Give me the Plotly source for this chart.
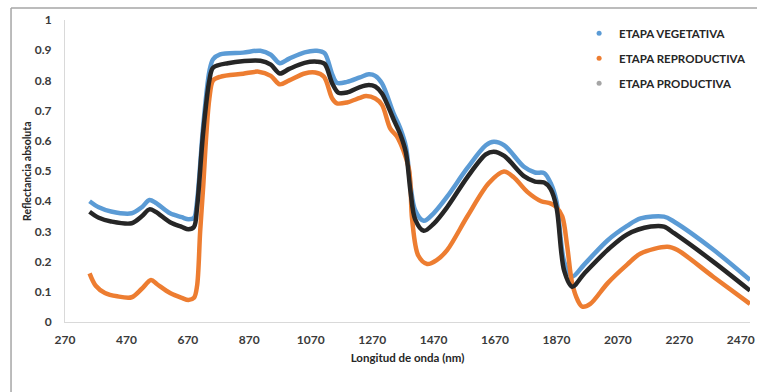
import plotly.graph_objects as go

# ---------------- data ----------------
veg_nm = [350, 380, 420, 487, 520, 545, 565, 612, 650, 672, 690, 700, 720, 740, 752, 775, 850, 906, 940, 969,
          1000, 1050, 1090, 1115, 1140, 1155, 1188, 1230, 1259, 1280, 1302, 1340, 1362, 1380, 1395, 1410, 1438,
          1470, 1514, 1580, 1640, 1666, 1700, 1764, 1800, 1830, 1851, 1870, 1895, 1921, 1960, 2036, 2100, 2144,
          2220, 2253, 2380, 2500]
veg_val = [0.400, 0.380, 0.366, 0.360, 0.380, 0.404, 0.395, 0.360, 0.347, 0.340, 0.345, 0.400, 0.650, 0.830,
           0.870, 0.886, 0.892, 0.898, 0.885, 0.857, 0.872, 0.893, 0.898, 0.890, 0.820, 0.792, 0.795, 0.810,
           0.820, 0.815, 0.790, 0.690, 0.640, 0.580, 0.450, 0.370, 0.335, 0.360, 0.415, 0.510, 0.585, 0.597,
           0.585, 0.514, 0.495, 0.493, 0.460, 0.400, 0.200, 0.150, 0.190, 0.270, 0.318, 0.343, 0.349, 0.332,
           0.240, 0.139]

rep_nm = [350, 370, 400, 440, 487, 520, 550, 570, 612, 650, 672, 690, 700, 710, 720, 730, 740, 752, 775, 850,
          900, 940, 969, 1000, 1050, 1085, 1113, 1140, 1155, 1188, 1230, 1250, 1280, 1302, 1329, 1351, 1389,
          1400, 1420, 1449, 1480, 1514, 1580, 1650, 1699, 1730, 1775, 1820, 1850, 1870, 1889, 1905, 1921, 1940,
          1954, 1980, 2036, 2100, 2144, 2231, 2264, 2380, 2500]
rep_val = [0.161, 0.120, 0.096, 0.085, 0.082, 0.110, 0.139, 0.125, 0.096, 0.080, 0.073, 0.080, 0.120, 0.300,
           0.450, 0.620, 0.740, 0.800, 0.812, 0.822, 0.829, 0.815, 0.787, 0.800, 0.823, 0.826, 0.812, 0.740,
           0.724, 0.727, 0.742, 0.748, 0.740, 0.719, 0.640, 0.614, 0.510, 0.340, 0.220, 0.192, 0.205, 0.238,
           0.350, 0.460, 0.498, 0.480, 0.431, 0.400, 0.393, 0.380, 0.349, 0.250, 0.128, 0.070, 0.051, 0.060,
           0.128, 0.190, 0.227, 0.249, 0.238, 0.150, 0.060]

pro_nm = [350, 380, 420, 487, 520, 545, 565, 612, 650, 672, 690, 700, 720, 740, 752, 800, 906, 940, 969, 1000,
          1050, 1090, 1115, 1140, 1160, 1188, 1230, 1259, 1280, 1302, 1340, 1362, 1380, 1395, 1410, 1438, 1470,
          1514, 1580, 1640, 1666, 1700, 1764, 1800, 1830, 1851, 1870, 1895, 1921, 1960, 2036, 2100, 2177, 2220,
          2253, 2380, 2500]
pro_val = [0.365, 0.345, 0.333, 0.327, 0.350, 0.373, 0.365, 0.330, 0.315, 0.307, 0.315, 0.380, 0.630, 0.800,
           0.842, 0.857, 0.865, 0.852, 0.823, 0.838, 0.858, 0.862, 0.855, 0.790, 0.759, 0.760, 0.778, 0.785,
           0.780, 0.757, 0.670, 0.620, 0.560, 0.430, 0.340, 0.302, 0.325, 0.380, 0.480, 0.555, 0.564, 0.550,
           0.483, 0.465, 0.462, 0.440, 0.380, 0.170, 0.117, 0.160, 0.238, 0.290, 0.316, 0.316, 0.294, 0.200,
           0.104]

series_names = ["ETAPA VEGETATIVA", "ETAPA REPRODUCTIVA", "ETAPA PRODUCTIVA"]
line_colors = ["#5B9BD5", "#ED7D31", "#262626"]
legend_colors = ["#5B9BD5", "#ED7D31", "#A5A5A5"]

x_ticks = [270, 470, 670, 870, 1070, 1270, 1470, 1670, 1870, 2070, 2270, 2470]
y_ticks = [0, 0.1, 0.2, 0.3, 0.4, 0.5, 0.6, 0.7, 0.8, 0.9, 1]
y_tick_text = ["0", "0.1", "0.2", "0.3", "0.4", "0.5", "0.6", "0.7", "0.8", "0.9", "1"]
x_title = "Longitud de onda (nm)"
y_title = "Reflectancia absoluta"

# ---------------- figure ----------------
FONT = "Lato, 'Open Sans', sans-serif"
TXT = "#3a3a3a"

fig = go.Figure()
for nm, val, name, col in zip([veg_nm, rep_nm, pro_nm], [veg_val, rep_val, pro_val], series_names, line_colors):
    fig.add_trace(go.Scatter(x=nm, y=val, name=name, mode="lines", showlegend=False,
                             line=dict(color=col, width=4.5, shape="spline", smoothing=0.9)))

for i, (name, col) in enumerate(zip(series_names, legend_colors)):
    fig.add_trace(go.Scatter(x=[None], y=[None], name=name, mode="markers", legendgroup=f"g{i}",
                             marker=dict(color=col, size=5)))

fig.update_layout(
    width=757, height=392,
    margin=dict(l=65, r=7, t=20, b=70, autoexpand=False),
    paper_bgcolor="white", plot_bgcolor="white",
    font=dict(family=FONT, color=TXT, size=11, weight="bold"),
    showlegend=True,
    legend=dict(x=0.765, y=0.952, xref="container", yref="container", xanchor="left", yanchor="top",
                bgcolor="rgba(0,0,0,0)",
                font=dict(family=FONT, size=11.5, color="#262626", weight="bold"),
                tracegroupgap=6, itemwidth=30),
    xaxis=dict(range=[270, 2500], tickvals=x_ticks, ticktext=[str(v) for v in x_ticks],
               showgrid=False, zeroline=False, showline=True, linecolor="#d9d9d9", linewidth=1,
               ticks="", ticklabelstandoff=7, automargin=True,
               tickfont=dict(family=FONT, size=12, color=TXT, weight="bold"),
               title=dict(text=x_title, standoff=7,
                          font=dict(family=FONT, size=11.5, color="#262626", weight="bold"))),
    yaxis=dict(range=[0, 1], tickvals=y_ticks, ticktext=y_tick_text,
               showgrid=False, zeroline=False, showline=True, linecolor="#d9d9d9", linewidth=1,
               ticks="", ticklabelstandoff=10, automargin=True,
               tickfont=dict(family=FONT, size=12, color=TXT, weight="bold")),
)

# y-axis title placed as a rotated annotation to match the reference position
fig.add_annotation(text=y_title, textangle=-90, xref="paper", yref="paper", x=-0.0555, y=0.5,
                   xanchor="center", yanchor="middle", showarrow=False,
                   font=dict(family=FONT, size=10.5, color="#262626", weight="bold"))

# outer chart frame (left and top edges visible in the reference)
fig.add_shape(type="line", xref="paper", yref="paper", x0=-0.0788, x1=-0.0788, y0=1.0397, y1=-0.235,
              line=dict(color="#a6a6a6", width=1.5))
fig.add_shape(type="line", xref="paper", yref="paper", x0=-0.0788, x1=1.02, y0=1.0397, y1=1.0397,
              line=dict(color="#a6a6a6", width=1.5))

fig.write_html("out.html")
